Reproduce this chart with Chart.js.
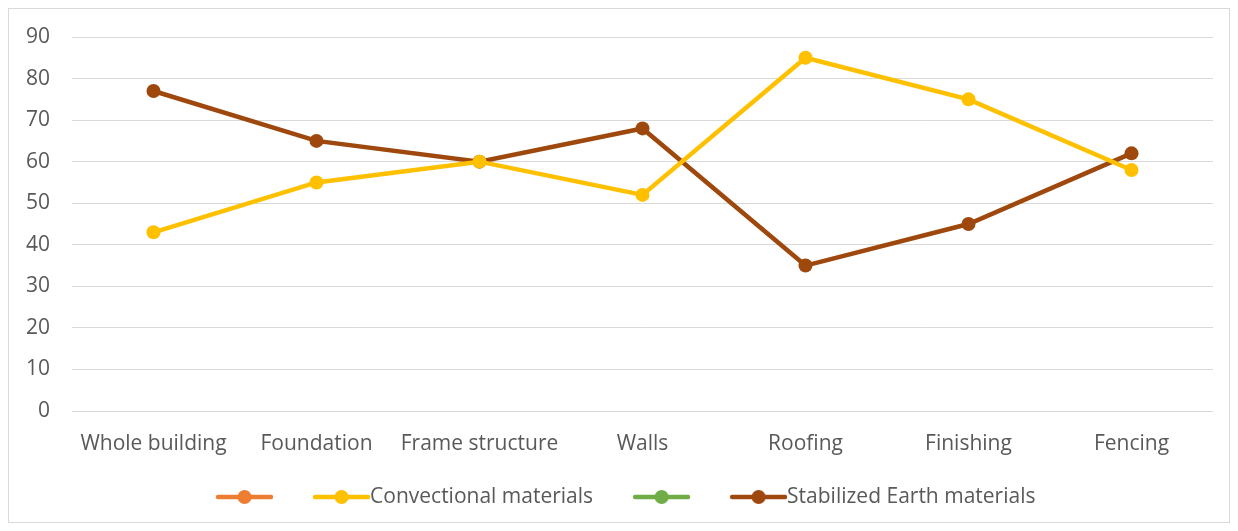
<!DOCTYPE html>
<html>
<head>
<meta charset="utf-8">
<script src="https://cdn.jsdelivr.net/npm/chart.js@4"></script>
<style>
  html, body { margin: 0; padding: 0; background: #fff; }
  #wrap { position: relative; width: 1238px; height: 531px; }
  #frame { position: absolute; left: 8px; top: 8px; width: 1222px; height: 515px; border: 1px solid #d9d9d9; box-sizing: border-box; }
</style>
</head>
<body>
<div id="wrap">
  <div id="frame"></div>
  <canvas id="chart" width="1238" height="531"></canvas>
</div>
<script>
const categories = ['Whole building', 'Foundation', 'Frame structure', 'Walls', 'Roofing', 'Finishing', 'Fencing'];
const convectional = [43, 55, 60, 52, 85, 75, 58];
const stabilizedEarth = [77, 65, 60, 68, 35, 45, 62];
const yTicks = [0, 10, 20, 30, 40, 50, 60, 70, 80, 90];

const textColor = '#595959';
const fontFamily = '"Open Sans", "Noto Sans", sans-serif';
const fontSize = 21;
const half = fontSize / 2;
const swatchLen = 57;
const legendPad = 25.5;
const extraGap = 40 - legendPad;   // blank in front of each swatch so items sit ~40px apart
const boxW = swatchLen - half + extraGap;

// legend swatch: line with a dot, drawn so the text sits right after it
function swatch(color) {
  const c = document.createElement('canvas');
  c.width = Math.round(boxW + 2 * half);
  c.height = 16;
  const g = c.getContext('2d');
  const a = extraGap + half, b = c.width;
  g.strokeStyle = color;
  g.lineWidth = 4.5;
  g.lineCap = 'round';
  g.beginPath(); g.moveTo(a + 2, 8); g.lineTo(b - 2, 8); g.stroke();
  g.fillStyle = color;
  g.beginPath(); g.arc((a + b) / 2, 8, 7, 0, Math.PI * 2); g.fill();
  return c;
}

const series = [
  { label: '', data: [], color: '#ED7D31' },
  { label: 'Convectional materials', data: convectional, color: '#FFC000' },
  { label: '', data: [], color: '#70AD47' },
  { label: 'Stabilized Earth materials', data: stabilizedEarth, color: '#9E480E' },
];

new Chart(document.getElementById('chart'), {
  type: 'line',
  data: {
    labels: categories,
    datasets: series.map(s => ({
      label: s.label,
      data: s.data,
      borderColor: s.color,
      backgroundColor: s.color,
      borderWidth: 4.5,
      pointRadius: 7,
      pointHoverRadius: 7,
      pointBorderWidth: 0,
      legendSwatch: swatch(s.color),
      tension: 0,
      fill: false,
    })),
  },
  options: {
    responsive: false,
    animation: false,
    layout: { padding: { top: 37, right: 25, left: 24, bottom: 13.5 } },
    plugins: {
      tooltip: { enabled: false },
      legend: {
        position: 'bottom',
        onClick: null,
        labels: {
          usePointStyle: true,
          pointStyleWidth: boxW,
          padding: legendPad,
          color: textColor,
          font: { family: fontFamily, size: fontSize },
          generateLabels(chart) {
            return chart.data.datasets.map((ds, i) => ({
              text: ds.label,
              fillStyle: ds.borderColor,
              strokeStyle: ds.borderColor,
              lineWidth: 0,
              pointStyle: ds.legendSwatch,
              hidden: false,
              datasetIndex: i,
              fontColor: textColor,
            }));
          },
        },
      },
    },
    scales: {
      x: {
        offset: true,
        grid: { display: false, drawTicks: false },
        border: { display: false },
        ticks: { color: textColor, font: { family: fontFamily, size: fontSize }, padding: 20, maxRotation: 0 },
        afterFit(scale) { scale.height = 50; },
      },
      y: {
        min: 0,
        max: 90,
        afterBuildTicks(scale) { scale.ticks = yTicks.map(v => ({ value: v })); },
        grid: { color: '#d9d9d9', lineWidth: 1, drawTicks: false },
        border: { display: false },
        ticks: { color: textColor, font: { family: fontFamily, size: fontSize }, padding: 22 },
        afterFit(scale) { scale.width = 48; },
      },
    },
  },
});
</script>
</body>
</html>
